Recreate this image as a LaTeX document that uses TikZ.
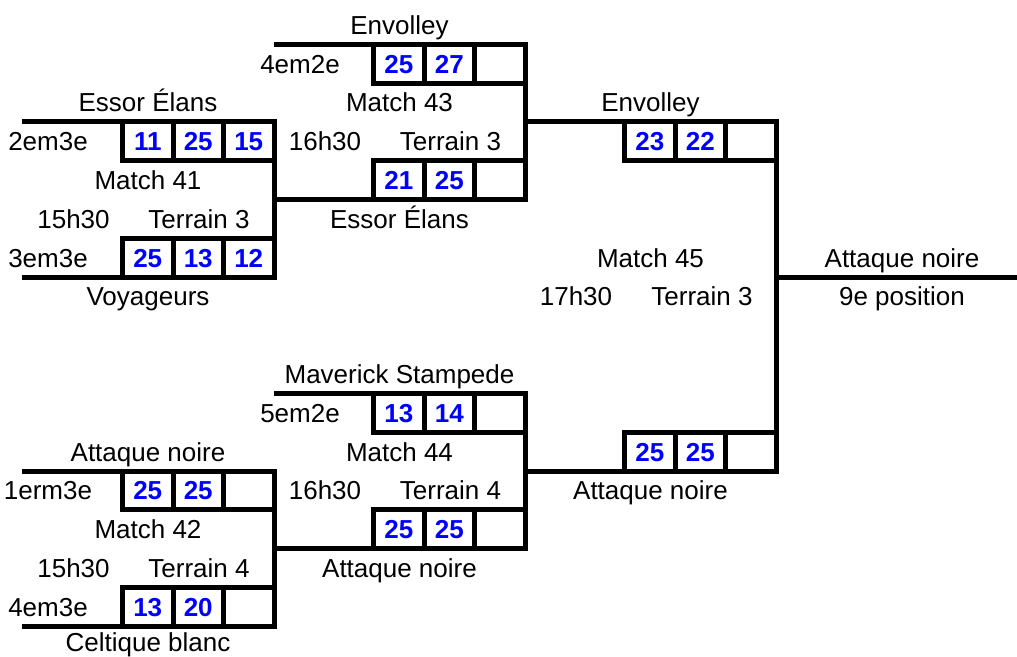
\documentclass[tikz,border=0pt]{standalone}
\usepackage{fontspec}
\setmainfont{Liberation Sans}
\begin{document}
\begin{tikzpicture}[
            x=1pt, y=-38.8pt,
            bracket/.style={line width=5pt},
            score/.style={draw, line width=5pt, minimum width=50.5pt, minimum height=38.8pt, inner sep=0pt,
              text=blue, font=\fontsize{26}{30}\selectfont\bfseries, text height=18.6pt, text depth=0pt},
            lbl/.style={inner sep=0pt, font=\fontsize{26}{30}\selectfont, text height=18.6pt, text depth=0pt},
            ]
            \useasboundingbox (0pt,44.3pt) rectangle (1017pt,-611.7pt);

            % bracket corners
            \coordinate (m41a) at (22,2);
            \coordinate (m41t) at (274,2);
            \coordinate (m41u) at (274,6);
            \coordinate (m41b) at (22,6);
            \coordinate (m41o) at (274,4);
            \coordinate (m42a) at (22,11);
            \coordinate (m42t) at (274,11);
            \coordinate (m42u) at (274,15);
            \coordinate (m42b) at (22,15);
            \coordinate (m42o) at (274,13);
            \coordinate (m43a) at (274,0);
            \coordinate (m43t) at (525,0);
            \coordinate (m43u) at (525,4);
            \coordinate (m43o) at (525,2);
            \coordinate (m44a) at (274,9);
            \coordinate (m44t) at (525,9);
            \coordinate (m44u) at (525,13);
            \coordinate (m44o) at (525,11);
            \coordinate (m45t) at (776,2);
            \coordinate (m45u) at (776,11);
            \coordinate (m45o) at (776,6);
            \coordinate (fin) at (1017,6);

            \draw[bracket] (m41a) -- (m41t) -- (m41u) -- (m41b);
            \draw[bracket] (m42a) -- (m42t) -- (m42u) -- (m42b);
            \draw[bracket] (m43a) -- (m43t) -- (m43u) -- (m41o);
            \draw[bracket] (m44a) -- (m44t) -- (m44u) -- (m42o);
            \draw[bracket] (m43o) -- (m45t) -- (m45u) -- (m44o);
            \draw[bracket] (m45o) -- (fin);

            % Match 41
            \node[lbl] (t41a) at (148,1.5) {Essor Élans};
            \node[lbl] (r41a) at (48,2.5) {2em3e};
            \node[score] (s41a1) at (147.75,2.5) {11};
            \node[score] (s41a2) at (198.25,2.5) {25};
            \node[score] (s41a3) at (248.75,2.5) {15};
            \node[lbl] (n41) at (148,3.5) {Match 41};
            \node[lbl] (h41) at (73.5,4.5) {15h30};
            \node[lbl] (f41) at (199,4.5) {Terrain 3};
            \node[lbl] (r41b) at (48,5.5) {3em3e};
            \node[score] (s41b1) at (147.75,5.5) {25};
            \node[score] (s41b2) at (198.25,5.5) {13};
            \node[score] (s41b3) at (248.75,5.5) {12};
            \node[lbl] (t41b) at (148,6.5) {Voyageurs};

            % Match 42
            \node[lbl] (t42a) at (148,10.5) {Attaque noire};
            \node[lbl] (r42a) at (48,11.5) {1erm3e};
            \node[score] (s42a1) at (147.75,11.5) {25};
            \node[score] (s42a2) at (198.25,11.5) {25};
            \node[score] (s42a3) at (248.75,11.5) {};
            \node[lbl] (n42) at (148,12.5) {Match 42};
            \node[lbl] (h42) at (73.5,13.5) {15h30};
            \node[lbl] (f42) at (199,13.5) {Terrain 4};
            \node[lbl] (r42b) at (48,14.5) {4em3e};
            \node[score] (s42b1) at (147.75,14.5) {13};
            \node[score] (s42b2) at (198.25,14.5) {20};
            \node[score] (s42b3) at (248.75,14.5) {};
            \node[lbl] (t42b) at (148,15.4) {Celtique blanc};

            % Match 43
            \node[lbl] (t43a) at (399.5,-0.5) {Envolley};
            \node[lbl] (r43a) at (300,0.5) {4em2e};
            \node[score] (s43a1) at (398.75,0.5) {25};
            \node[score] (s43a2) at (449.25,0.5) {27};
            \node[score] (s43a3) at (499.75,0.5) {};
            \node[lbl] (n43) at (399.5,1.5) {Match 43};
            \node[lbl] (h43) at (325,2.5) {16h30};
            \node[lbl] (f43) at (450.5,2.5) {Terrain 3};
            \node[score] (s43b1) at (398.75,3.5) {21};
            \node[score] (s43b2) at (449.25,3.5) {25};
            \node[score] (s43b3) at (499.75,3.5) {};
            \node[lbl] (t43b) at (399.5,4.5) {Essor Élans};

            % Match 44
            \node[lbl] (t44a) at (399.5,8.5) {Maverick Stampede};
            \node[lbl] (r44a) at (300,9.5) {5em2e};
            \node[score] (s44a1) at (398.75,9.5) {13};
            \node[score] (s44a2) at (449.25,9.5) {14};
            \node[score] (s44a3) at (499.75,9.5) {};
            \node[lbl] (n44) at (399.5,10.5) {Match 44};
            \node[lbl] (h44) at (325,11.5) {16h30};
            \node[lbl] (f44) at (450.5,11.5) {Terrain 4};
            \node[score] (s44b1) at (398.75,12.5) {25};
            \node[score] (s44b2) at (449.25,12.5) {25};
            \node[score] (s44b3) at (499.75,12.5) {};
            \node[lbl] (t44b) at (399.5,13.5) {Attaque noire};

            % Match 45
            \node[lbl] (t45a) at (650.5,1.5) {Envolley};
            \node[score] (s45a1) at (649.75,2.5) {23};
            \node[score] (s45a2) at (700.25,2.5) {22};
            \node[score] (s45a3) at (750.75,2.5) {};
            \node[lbl] (n45) at (650.5,5.5) {Match 45};
            \node[lbl] (h45) at (576,6.5) {17h30};
            \node[lbl] (f45) at (702,6.5) {Terrain 3};
            \node[score] (s45b1) at (649.75,10.5) {25};
            \node[score] (s45b2) at (700.25,10.5) {25};
            \node[score] (s45b3) at (750.75,10.5) {};
            \node[lbl] (t45b) at (650.5,11.5) {Attaque noire};

            % winner
            \node[lbl] (w) at (902,5.5) {Attaque noire};
            \node[lbl] (wp) at (902,6.5) {9e position};
        \end{tikzpicture}
\end{document}
